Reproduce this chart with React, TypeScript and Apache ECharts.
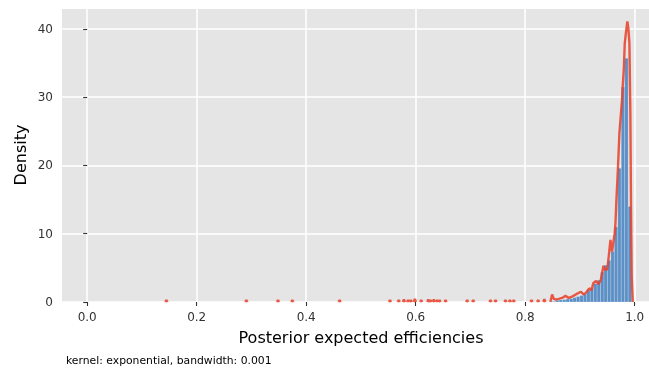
import React, { useEffect, useRef } from "react";
import * as echarts from "echarts";

// x tick values and labels
const xTicks = [0, 0.2, 0.4, 0.6, 0.8, 1.0];
const yTicks = [0, 10, 20, 30, 40];

// histogram (bin start, density) with fixed bin width
const binWidth = 0.0063;
const binStarts = [
  0.8494, 0.8557, 0.862, 0.8683, 0.8746, 0.8809, 0.8872, 0.8935, 0.8998, 0.9061,
  0.9124, 0.9187, 0.925, 0.9313, 0.9376, 0.9439, 0.9502, 0.9565, 0.9628, 0.9691,
  0.9754, 0.9817, 0.988,
];
const binHeights = [
  0.1, 0.25, 0.3, 0.35, 0.45, 0.5, 0.65, 0.8, 0.95, 1.2,
  1.76, 2.0, 2.7, 3.2, 4.4, 5.4, 6.1, 7.4, 11.0, 19.6,
  31.5, 35.7, 14.0,
];

// isolated density spikes (single observations far in the tail)
const spikeX = [
  0.1447, 0.2907, 0.3485, 0.3747, 0.461, 0.553, 0.569, 0.5785, 0.586, 0.591,
  0.5985, 0.61, 0.623, 0.627, 0.633, 0.639, 0.6436, 0.6545, 0.694, 0.705,
  0.7366, 0.7458, 0.764, 0.772, 0.779, 0.8115, 0.8236, 0.835,
];
const spikeH = [
  0.3, 0.3, 0.3, 0.3, 0.3, 0.3, 0.3, 0.35, 0.3, 0.3,
  0.45, 0.3, 0.35, 0.3, 0.35, 0.3, 0.3, 0.3, 0.3, 0.3,
  0.3, 0.3, 0.3, 0.3, 0.3, 0.3, 0.3, 0.4,
];

// main density curve
const curveX = [
  0.846, 0.8491, 0.852, 0.856, 0.8613, 0.8674, 0.8735, 0.8796, 0.8856, 0.8905,
  0.8942, 0.8991, 0.902, 0.9064, 0.91, 0.9124, 0.9161, 0.9184, 0.921, 0.9246,
  0.9294, 0.932, 0.9338, 0.938, 0.9429, 0.9458, 0.95, 0.953, 0.9557, 0.9586,
  0.9604, 0.9635, 0.9648, 0.9666, 0.9695, 0.972, 0.9768, 0.978, 0.98, 0.9818,
  0.984, 0.9866, 0.9885, 0.9903, 0.992, 0.9933, 0.9945, 0.9964,
];
const curveY = [
  0, 1.1, 0.5, 0.35, 0.45, 0.6, 0.9, 0.6, 0.8, 1.0,
  1.2, 1.4, 1.5, 1.1, 1.3, 1.5, 1.9, 2.0, 1.7, 2.8,
  3.1, 2.8, 2.6, 3.2, 5.3, 4.7, 4.8, 7.0, 9.1, 7.4,
  8.4, 10.1, 11.5, 15.0, 19.8, 24.7, 29.6, 31.5, 34.0, 37.9,
  39.5, 41.1, 40.0, 37.9, 28.0, 13.5, 3.7, 0,
];

const FONT = "DejaVu Sans";

export default function App() {
  const ref = useRef<HTMLDivElement>(null);
  useEffect(() => {
    if (!ref.current) return;
    const chart = echarts.init(ref.current, undefined, { renderer: "svg" });

    const histData = binStarts.map((s, i) => [s, s + binWidth, binHeights[i]]);
    const lineData: any[] = [];
    spikeX.forEach((x, i) => {
      lineData.push([x - 0.002, 0]);
      lineData.push([x, spikeH[i]]);
      lineData.push([x + 0.002, 0]);
      lineData.push([x + 0.0021, "-"]);
    });
    curveX.forEach((x, i) => lineData.push([x, curveY[i]]));

    chart.setOption({
      animation: false,
      grid: {
        left: 62,
        top: 9,
        width: 599,
        height: 293,
        show: true,
        backgroundColor: "#e5e5e5",
        borderWidth: 0,
        containLabel: false,
        outerBoundsMode: "none",
      },
      xAxis: {
        type: "value",
        min: -0.046,
        max: 1.048,
        axisLine: { show: false },
        axisTick: {
          show: true,
          length: 4,
          lineStyle: { color: "#333", width: 1.1 },
          customValues: xTicks,
        },
        axisLabel: {
          customValues: xTicks,
          formatter: (v: number) => v.toFixed(1),
          color: "#333",
          fontFamily: FONT,
          fontSize: 12,
          margin: 9,
        },
        splitLine: { show: true, lineStyle: { color: "#ffffff", width: 1.5 } },
      },
      yAxis: {
        type: "value",
        min: 0,
        max: 42.93,
        axisLine: { show: false },
        axisTick: {
          show: true,
          length: 4,
          lineStyle: { color: "#333", width: 1.1 },
          customValues: yTicks,
        },
        axisLabel: {
          customValues: yTicks,
          color: "#333",
          fontFamily: FONT,
          fontSize: 12,
          margin: 9,
        },
        splitLine: { show: true, lineStyle: { color: "#ffffff", width: 1.5 } },
      },
      series: [
        {
          type: "custom",
          data: histData,
          encode: { x: [0, 1], y: 2 },
          clip: true,
          renderItem: (params: any, api: any) => {
            const p0 = api.coord([api.value(0), 0]);
            const p1 = api.coord([api.value(1), api.value(2)]);
            return {
              type: "rect",
              shape: { x: p0[0], y: p1[1], width: p1[0] - p0[0], height: p0[1] - p1[1] },
              style: { fill: "#5b8fc6", stroke: "rgba(255,255,255,0.35)", lineWidth: 0.6 },
            };
          },
        },
        {
          type: "line",
          data: lineData,
          showSymbol: false,
          symbol: "none",
          connectNulls: false,
          clip: true,
          lineStyle: { color: "#e8432e", width: 2.4, opacity: 0.88 },
        },
      ],
      graphic: [
        {
          type: "text",
          x: 361,
          y: 337,
          style: {
            text: "Posterior expected efficiencies",
            font: `16px "${FONT}"`,
            fill: "#000",
            textAlign: "center",
            textVerticalAlign: "middle",
          },
        },
        {
          type: "text",
          x: 20,
          y: 155,
          rotation: Math.PI / 2,
          style: {
            text: "Density",
            font: `16px "${FONT}"`,
            fill: "#000",
            textAlign: "center",
            textVerticalAlign: "middle",
          },
        },
        {
          type: "text",
          x: 66,
          y: 360,
          style: {
            text: "kernel: exponential, bandwidth: 0.001",
            font: `10.8px "${FONT}"`,
            fill: "#000",
            textAlign: "left",
            textVerticalAlign: "middle",
          },
        },
      ],
    });
    return () => chart.dispose();
  }, []);
  return (
    <div
      ref={ref}
      style={{ position: "fixed", left: 0, top: 0, width: 649, height: 371 }}
    />
  );
}
